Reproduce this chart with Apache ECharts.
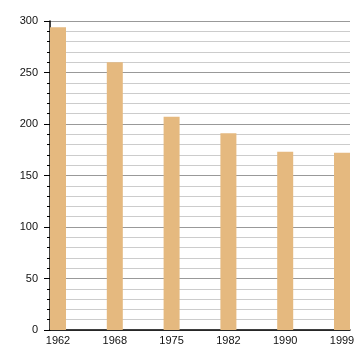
<!DOCTYPE html>
<html>
<head>
<meta charset="utf-8">
<script src="https://cdn.jsdelivr.net/npm/echarts@6/dist/echarts.min.js"></script>
<style>html,body{margin:0;padding:0;background:#fff}#c{width:360px;height:360px}</style>
</head>
<body>
<div id="c"></div>
<script>
var years = ['1962', '1968', '1975', '1982', '1990', '1999'];
var population = [294, 260, 207, 191, 173, 172];
var yTicks = [0, 50, 100, 150, 200, 250, 300];

var chart = echarts.init(document.getElementById('c'), null, {renderer: 'canvas'});
chart.setOption({
  animation: false,
  backgroundColor: '#fff',
  grid: {left: 50, right: 10, top: 21, bottom: 30},
  xAxis: {
    type: 'value',
    min: -0.1408,
    max: 5.1408,
    splitLine: {show: false},
    axisTick: {show: false},
    axisLine: {show: true, onZero: false, lineStyle: {color: '#000', width: 1.5}},
    axisLabel: {
      customValues: years.map(function (y, i) { return i; }),
      formatter: function (v) { return years[Math.round(v)]; },
      color: '#111', fontSize: 11, fontFamily: 'Liberation Sans, Arial, sans-serif', margin: 5
    }
  },
  yAxis: {
    type: 'value',
    min: yTicks[0],
    max: yTicks[yTicks.length - 1],
    interval: 50,
    axisLine: {show: true, onZero: false, lineStyle: {color: '#000', width: 1.5}},
    axisTick: {show: true, length: 6, lineStyle: {color: '#000'}},
    minorTick: {show: true, splitNumber: 5, length: 3, lineStyle: {color: '#000'}},
    splitLine: {show: true, lineStyle: {color: '#999', width: 1}},
    minorSplitLine: {show: true, lineStyle: {color: '#ccc', width: 1}},
    axisLabel: {color: '#111', fontSize: 11, fontFamily: 'Liberation Sans, Arial, sans-serif', margin: 12}
  },
  series: [{
    type: 'bar',
    barWidth: 16,
    itemStyle: {color: '#e5b97f'},
    data: population.map(function (v, i) { return [i, v]; })
  }]
});
</script>
</body>
</html>
